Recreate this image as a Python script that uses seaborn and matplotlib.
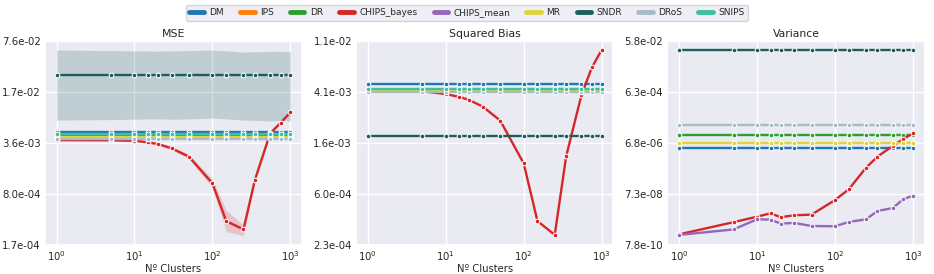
import numpy as np
import pandas as pd
import matplotlib
matplotlib.use("Agg")
import matplotlib.pyplot as plt
from matplotlib.lines import Line2D
from matplotlib.ticker import FixedLocator, NullLocator
import seaborn as sns

sns.set_theme(style="darkgrid")

clusters = [1, 5, 10, 15, 20, 30, 50, 100, 150, 250, 350, 550, 750, 1000]
methods = ["DM", "IPS", "DR", "CHIPS_bayes", "CHIPS_mean", "MR", "SNDR", "DRoS", "SNIPS"]
colors = ["#1f77b4", "#ff7f0e", "#2ca02c", "#d62728", "#9467bd",
          "#dcd63a", "#1b5e5c", "#a7bcc7", "#3cc0a0"]
palette = dict(zip(methods, colors))

# MSE
mse_base = {"DM": 5.0e-3, "IPS": 4.32e-3, "DR": 4.55e-3, "MR": 4.32e-3,
            "SNDR": 2.73e-2, "DRoS": 4.13e-3, "SNIPS": 4.72e-3}
mse_base_lo = {"DM": 4.85e-3, "IPS": 4.2e-3, "DR": 4.42e-3, "MR": 4.2e-3,
               "DRoS": 4.0e-3, "SNIPS": 4.58e-3}
mse_base_hi = {"DM": 5.15e-3, "IPS": 4.45e-3, "DR": 4.68e-3, "MR": 4.45e-3,
               "DRoS": 4.26e-3, "SNIPS": 4.86e-3}
mse_sndr_lo = [7.15e-3, 7.25e-3, 7.35e-3, 7.4e-3, 7.4e-3, 7.35e-3, 7.4e-3,
               7.6e-3, 7.4e-3, 7.15e-3, 7.1e-3, 6.95e-3, 7.1e-3, 6.95e-3]
mse_sndr_hi = [5.75e-2, 5.65e-2, 5.6e-2, 5.6e-2, 5.55e-2, 5.6e-2, 5.65e-2,
               5.75e-2, 5.6e-2, 5.4e-2, 5.45e-2, 5.5e-2, 5.55e-2, 5.45e-2]
mse_chips_bayes = [3.95e-3, 3.93e-3, 3.87e-3, 3.69e-3, 3.51e-3, 3.09e-3, 2.41e-3,
                   1.09e-3, 3.55e-4, 2.77e-4, 1.20e-3, 4.82e-3, 6.61e-3, 9.0e-3]
mse_chips_bayes_lo = [3.85e-3, 3.83e-3, 3.77e-3, 3.57e-3, 3.38e-3, 2.95e-3, 2.25e-3,
                      9.5e-4, 2.6e-4, 2.3e-4, 1.15e-3, 4.7e-3, 6.5e-3, 8.85e-3]
mse_chips_bayes_hi = [4.05e-3, 4.03e-3, 3.97e-3, 3.81e-3, 3.64e-3, 3.24e-3, 2.58e-3,
                      1.24e-3, 4.9e-4, 3.15e-4, 1.26e-3, 4.95e-3, 6.75e-3, 9.15e-3]
mse_chips_mean = [4.32e-3] * len(clusters)

# Squared bias
bias_base = {"DM": 4.79e-3, "IPS": 4.22e-3, "DR": 4.30e-3, "MR": 4.22e-3,
             "SNDR": 1.80e-3, "DRoS": 4.09e-3, "SNIPS": 4.38e-3}
bias_chips_bayes = [4.20e-3, 4.18e-3, 3.96e-3, 3.75e-3, 3.54e-3, 3.12e-3, 2.40e-3,
                    1.07e-3, 3.61e-4, 2.78e-4, 1.22e-3, 3.89e-3, 6.56e-3, 9.1e-3]
bias_chips_mean = [4.22e-3] * len(clusters)

# Variance (IPS and SNIPS not shown)
var_base = {"DM": 4.27e-6, "DR": 1.36e-5, "MR": 6.5e-6, "SNDR": 2.56e-2, "DRoS": 3.2e-5}
var_chips_bayes = [2.0e-9, 5.9e-9, 9.6e-9, 1.3e-8, 9.1e-9, 1.09e-8, 1.15e-8,
                   4.2e-8, 1.09e-7, 7.4e-7, 1.98e-6, 5.1e-6, 9.5e-6, 1.57e-5]
var_chips_mean = [1.9e-9, 3.1e-9, 7.6e-9, 7.4e-9, 5.2e-9, 5.5e-9, 4.2e-9,
                  4.1e-9, 6.0e-9, 7.6e-9, 1.59e-8, 2.07e-8, 4.5e-8, 6.2e-8]

titles = ["MSE", "Squared Bias", "Variance"]
ylims = [(1.745e-4, 7.58e-2), (2.3e-4, 1.084e-2), (7.8e-10, 5.847e-2)]


def long_frame(base, chips_bayes, chips_mean):
    rows = []
    for m in methods:
        if m == "CHIPS_bayes":
            vals = chips_bayes
        elif m == "CHIPS_mean":
            vals = chips_mean
        elif m in base:
            vals = [base[m]] * len(clusters)
        else:
            continue
        for x, v in zip(clusters, vals):
            rows.append((m, x, v))
    return pd.DataFrame(rows, columns=["method", "clusters", "value"])


frames = [long_frame(mse_base, mse_chips_bayes, mse_chips_mean),
          long_frame(bias_base, bias_chips_bayes, bias_chips_mean),
          long_frame(var_base, var_chips_bayes, var_chips_mean)]

fig, axes = plt.subplots(1, 3, figsize=(9.34, 2.74), dpi=100)
fig.subplots_adjust(left=0.048, right=0.99, bottom=0.106, top=0.8515, wspace=0.21)

# confidence bands for MSE
ax = axes[0]
for m in mse_base_lo:
    ax.fill_between(clusters, [mse_base_lo[m]] * len(clusters), [mse_base_hi[m]] * len(clusters),
                    color=palette[m], alpha=0.2, lw=0, zorder=1)
ax.fill_between(clusters, mse_sndr_lo, mse_sndr_hi, color=palette["SNDR"], alpha=0.2, lw=0, zorder=1)
ax.fill_between(clusters, mse_chips_bayes_lo, mse_chips_bayes_hi,
                color=palette["CHIPS_bayes"], alpha=0.2, lw=0, zorder=1)

for ax, df, title, ylim in zip(axes, frames, titles, ylims):
    sns.lineplot(data=df, x="clusters", y="value", hue="method", hue_order=methods,
                 palette=palette, marker="o", markersize=3.4, markeredgewidth=0.75,
                 linewidth=1.7, errorbar=None, legend=False, ax=ax)
    ax.set_xscale("log")
    ax.set_yscale("log")
    ax.set_ylim(ylim)
    ticks = np.geomspace(ylim[0], ylim[1], 5)
    ax.yaxis.set_major_locator(FixedLocator(ticks))
    ax.yaxis.set_minor_locator(NullLocator())
    ax.set_yticklabels([f"{t:.1e}" for t in ticks])
    ax.set_title(title, fontsize=7.8, pad=3)
    ax.set_xlabel("Nº Clusters", fontsize=7.2, labelpad=1)
    ax.set_ylabel("")
    ax.tick_params(which="both", length=0, labelsize=7.3, pad=3)

handles = [Line2D([], [], color=c, lw=3.5, solid_capstyle="round") for c in colors]
fig.legend(handles, methods, loc="upper center", bbox_to_anchor=(0.5, 1.0), ncol=9,
           fontsize=6.5, frameon=True, handlelength=1.6, columnspacing=1.8,
           handletextpad=0.6, borderpad=0.4)

fig.savefig("out.png", dpi=100)
